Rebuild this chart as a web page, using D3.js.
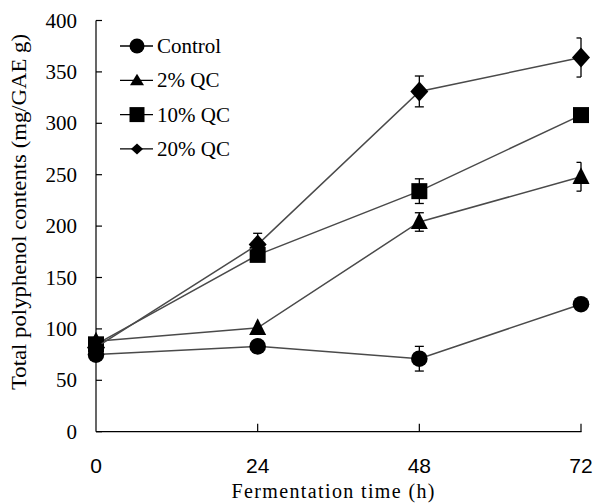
<!DOCTYPE html>
<html><head><meta charset="utf-8">
<script src="https://cdn.jsdelivr.net/npm/d3@7"></script>
<style>body{margin:0;background:#fff}</style>
</head><body>
<svg id="c" width="595" height="504"></svg>
<script>
const times = [0, 24, 48, 72];
const seriesNames = ["Control", "2% QC", "10% QC", "20% QC"];
const controlVals = [75, 83, 71, 124];
const qc2Vals = [88, 101, 204, 248];
const qc10Vals = [85, 172, 234, 308];
const qc20Vals = [82, 182, 331, 364];
const controlErr = [3, 3, 12, 2];
const qc2Err = [3, 2, 9, 14];
const qc10Err = [2, 4, 12, 2];
const qc20Err = [2, 11, 15, 19];
const yTicks = [0, 50, 100, 150, 200, 250, 300, 350, 400];
const xTicks = [0, 24, 48, 72];

// custom marker shapes (half width, half height)
function shape(kind, hw, hh) {
  return {
    draw(ctx) {
      if (kind === "circle") { ctx.moveTo(hw, 0); ctx.arc(0, 0, hw, 0, 2 * Math.PI); }
      else if (kind === "triangle") { ctx.moveTo(0, -hh); ctx.lineTo(hw, hh * 0.75); ctx.lineTo(-hw, hh * 0.75); ctx.closePath(); }
      else if (kind === "square") { ctx.rect(-hw, -hh, 2 * hw, 2 * hh); }
      else { ctx.moveTo(0, -hh); ctx.lineTo(hw, 0); ctx.lineTo(0, hh); ctx.lineTo(-hw, 0); ctx.closePath(); }
    }
  };
}
const kinds = ["circle", "triangle", "square", "diamond"];
const plotDims = [[8.3, 8.3], [8.5, 9.5], [8, 8], [9, 10]];
const legDims = [[7.5, 7.5], [7, 6.5], [7.5, 7.5], [6, 5.5]];

const series = seriesNames.map((n, i) => ({
  name: n,
  vals: [controlVals, qc2Vals, qc10Vals, qc20Vals][i],
  err: [controlErr, qc2Err, qc10Err, qc20Err][i],
  kind: kinds[i]
}));

const svg = d3.select("#c");
const x = d3.scaleLinear().domain([0, 72]).range([96, 581]);
const y = d3.scaleLinear().domain([0, 400]).range([431.7, 20.5]);
const lineCol = "#4a4a4a";
const serif = "'Liberation Serif','Times New Roman',serif";
const sans = "'Liberation Sans',Arial,sans-serif";

// axes
svg.append("line").attr("x1", 96).attr("x2", 96).attr("y1", y(400)).attr("y2", y(0)).attr("stroke", "#000").attr("stroke-width", 1.2);
svg.append("line").attr("x1", 96).attr("x2", 581.5).attr("y1", y(0)).attr("y2", y(0)).attr("stroke", "#000").attr("stroke-width", 1.2);
svg.append("g").selectAll("line").data(yTicks).join("line")
  .attr("x1", 96).attr("x2", 102).attr("y1", d => y(d)).attr("y2", d => y(d)).attr("stroke", "#000").attr("stroke-width", 1.2);
svg.append("g").selectAll("text").data(yTicks).join("text")
  .attr("x", 77).attr("y", d => y(d)).attr("dy", "0.34em").attr("text-anchor", "end")
  .attr("font-family", serif).attr("font-size", 21).text(d => d);
svg.append("g").selectAll("line").data(xTicks.slice(1)).join("line")
  .attr("x1", d => x(d)).attr("x2", d => x(d)).attr("y1", y(0)).attr("y2", y(0) - 8).attr("stroke", "#000").attr("stroke-width", 1.2);
svg.append("g").selectAll("text").data(xTicks).join("text")
  .attr("x", d => x(d)).attr("y", 473).attr("text-anchor", "middle")
  .attr("font-family", sans).attr("font-size", 21).text(d => d);
svg.append("text").attr("x", 333).attr("y", 498).attr("text-anchor", "middle")
  .attr("font-family", serif).attr("font-size", 20).attr("textLength", 203).attr("lengthAdjust", "spacing")
  .text("Fermentation time (h)");
svg.append("text").attr("transform", "translate(26,212) rotate(-90)").attr("text-anchor", "middle")
  .attr("font-family", serif).attr("font-size", 21).attr("textLength", 356).attr("lengthAdjust", "spacingAndGlyphs")
  .text("Total polyphenol contents (mg/GAE g)");

const line = d3.line().x((d, i) => x(times[i])).y(d => y(d));

series.forEach((s, si) => {
  const g = svg.append("g");
  g.append("path").attr("d", line(s.vals)).attr("fill", "none").attr("stroke", lineCol).attr("stroke-width", 1.5);
  s.vals.forEach((v, i) => {
    const e = s.err[i];
    if (e <= 3) return;
    const cx = x(times[i]);
    const half = i === 3 ? [cx - 4.5, cx] : [cx - 4.5, cx + 4.5];
    g.append("line").attr("x1", cx).attr("x2", cx).attr("y1", y(v + e)).attr("y2", y(v - e)).attr("stroke", "#000").attr("stroke-width", 1.3);
    [v + e, v - e].forEach(b => g.append("line").attr("x1", half[0]).attr("x2", half[1]).attr("y1", y(b)).attr("y2", y(b)).attr("stroke", "#000").attr("stroke-width", 1.3));
  });
  const dims = plotDims[si];
  g.selectAll("path.m").data(s.vals).join("path").attr("class", "m")
    .attr("transform", (d, i) => `translate(${x(times[i])},${y(d)})`)
    .attr("d", d3.symbol().type(shape(s.kind, dims[0], dims[1]))).attr("fill", "#000");
});

// legend
series.forEach((s, i) => {
  const ly = 46 + i * 34.3;
  svg.append("line").attr("x1", 120).attr("x2", 153).attr("y1", ly).attr("y2", ly).attr("stroke", "#000").attr("stroke-width", 1.3);
  const dims = legDims[i];
  svg.append("path").attr("transform", `translate(137,${ly})`).attr("d", d3.symbol().type(shape(s.kind, dims[0], dims[1]))).attr("fill", "#000");
  svg.append("text").attr("x", 157).attr("y", ly).attr("dy", "0.34em").attr("font-family", serif).attr("font-size", 21).text(s.name);
});
</script>
</body></html>
